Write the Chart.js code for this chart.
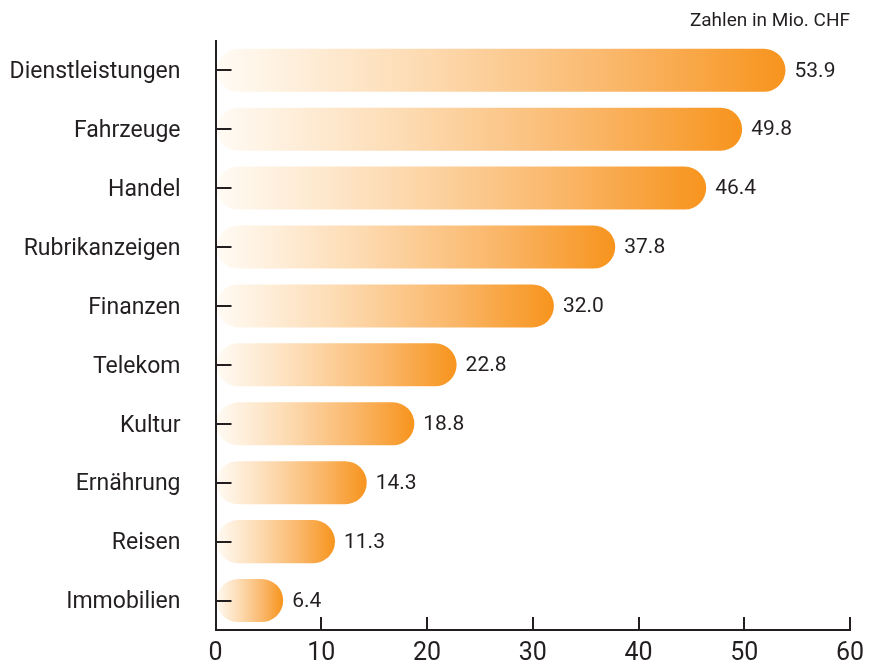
<!DOCTYPE html>
<html>
<head>
<meta charset="utf-8">
<script src="https://cdn.jsdelivr.net/npm/chart.js@4.4.1/dist/chart.umd.min.js"></script>
<style>
  html, body { margin: 0; padding: 0; background: #fff; }
  #wrap { width: 869px; height: 664px; }
</style>
</head>
<body>
<div id="wrap"><canvas id="chart"></canvas></div>
<script>
const categories = ["Dienstleistungen", "Fahrzeuge", "Handel", "Rubrikanzeigen", "Finanzen",
  "Telekom", "Kultur", "Ernährung", "Reisen", "Immobilien"];
const values = [53.9, 49.8, 46.4, 37.8, 32.0, 22.8, 18.8, 14.3, 11.3, 6.4];
const xTicks = [0, 10, 20, 30, 40, 50, 60];

const FONT = "Roboto, 'Liberation Sans', Arial, sans-serif";
const INK = "#231f20";

// Balken: Verlauf von fast weiss (links) zu orange (Balkenende)
function barGradient(ctx) {
  const chart = ctx.chart;
  if (!chart.chartArea || ctx.type !== "data") return "#f7941d";
  const x = chart.scales.x;
  const x0 = x.getPixelForValue(0);
  const x1 = x.getPixelForValue(ctx.raw);
  const g = chart.ctx.createLinearGradient(x0, 0, x1, 0);
  g.addColorStop(0, "#fffbf5");
  g.addColorStop(0.35, "#fddcb4");
  g.addColorStop(0.7, "#fab76a");
  g.addColorStop(1, "#f7941d");
  return g;
}

const valueLabels = {
  id: "valueLabels",
  afterDatasetsDraw(chart) {
    const c = chart.ctx;
    const meta = chart.getDatasetMeta(0);
    c.save();
    c.font = "21px " + FONT;
    c.fillStyle = INK;
    c.textAlign = "left";
    c.textBaseline = "middle";
    meta.data.forEach((bar, i) => {
      c.fillText(values[i].toFixed(1), bar.x + 9, bar.y + 1);
    });
    c.restore();
  }
};

// Achsenabstaende festnageln, sonst frisst das tick-padding den Platz
function noPad(s) {
  s.paddingLeft = 0; s.paddingRight = 0; s.paddingTop = 0; s.paddingBottom = 0;
}

new Chart(document.getElementById("chart"), {
  type: "bar",
  data: {
    labels: categories,
    datasets: [{
      data: values,
      backgroundColor: barGradient,
      borderRadius: 22,
      borderSkipped: false,
      barPercentage: 0.73,
      categoryPercentage: 1
    }]
  },
  options: {
    indexAxis: "y",
    responsive: true,
    maintainAspectRatio: false,
    animation: false,
    layout: { padding: { left: 0, right: 19, top: 0, bottom: 0 } },
    plugins: {
      legend: { display: false },
      tooltip: { enabled: false },
      title: {
        display: true,
        text: "Zahlen in Mio. CHF",
        align: "end",
        color: INK,
        font: { family: FONT, size: 19, weight: "normal", lineHeight: 1.2 },
        padding: { top: 10, bottom: 8 }
      }
    },
    scales: {
      x: {
        min: 0,
        max: 60,
        afterBuildTicks: (s) => { s.ticks = xTicks.map(v => ({ value: v })); },
        afterFit: (s) => { s.height = 34; noPad(s); },
        border: { display: true, color: INK, width: 2, z: 1 },
        grid: { z: 1, drawOnChartArea: false, color: INK, lineWidth: 2, tickLength: -13 },
        ticks: { color: INK, padding: 22, font: { family: FONT, size: 25 } }
      },
      y: {
        afterFit: (s) => { s.width = 215.5; noPad(s); },
        border: { display: true, color: INK, width: 2, z: 1 },
        grid: { z: 1, offset: false, drawOnChartArea: false, color: INK, lineWidth: 2, tickLength: -16 },
        ticks: { color: INK, padding: 51, labelOffset: 2, font: { family: FONT, size: 23 } }
      }
    }
  },
  plugins: [valueLabels]
});
</script>
</body>
</html>
